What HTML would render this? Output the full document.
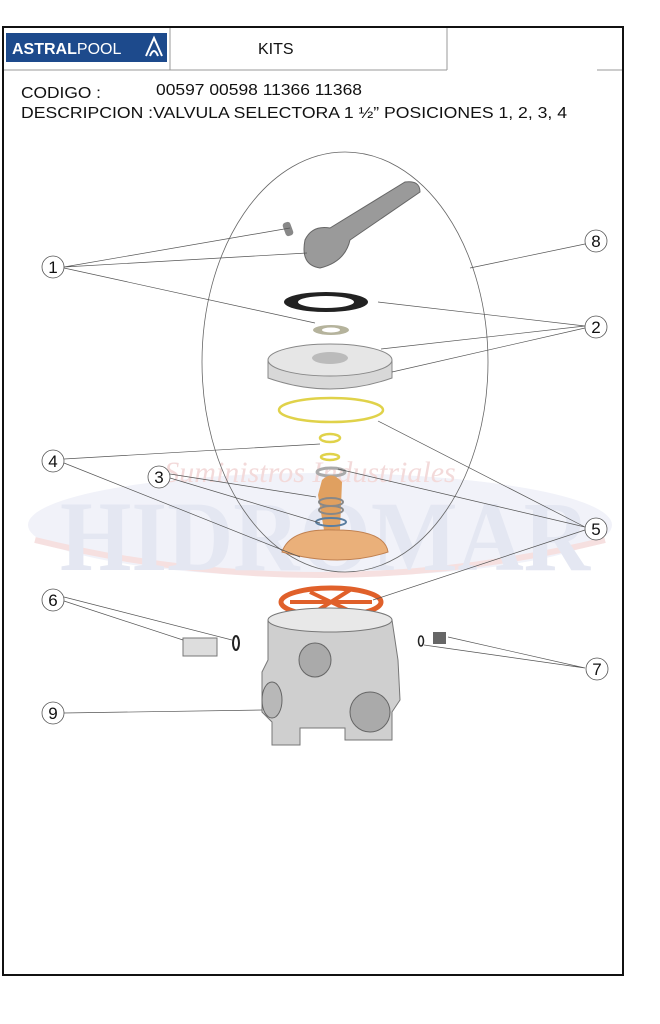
<!DOCTYPE html>
<html><head><meta charset="utf-8"><style>
body{margin:0;background:#fff;}
svg{display:block;font-family:"Liberation Sans",sans-serif;}
</style></head><body>
<svg width="660" height="1024" viewBox="0 0 660 1024" xmlns="http://www.w3.org/2000/svg">
<rect x="0" y="0" width="660" height="1024" fill="#fff"/>
<!-- watermark -->
<ellipse cx="320" cy="525" rx="292" ry="52" fill="#f1f2f9"/>
<path d="M35 540 Q320 610 605 540" stroke="#f6e0e0" stroke-width="6" fill="none"/>
<text x="60" y="570" font-family="Liberation Serif,serif" font-weight="bold" font-size="100" fill="#e4e7f2" textLength="530" lengthAdjust="spacingAndGlyphs">HIDROMAR</text>
<text x="310" y="482" font-family="Liberation Serif,serif" font-style="italic" font-size="30" fill="#f3dada" text-anchor="middle">Suministros Industriales</text>
<!-- frame -->
<rect x="3" y="27" width="620" height="948" fill="none" stroke="#111" stroke-width="2"/>
<line x1="170" y1="28" x2="170" y2="70" stroke="#999" stroke-width="1"/>
<line x1="447" y1="28" x2="447" y2="70" stroke="#999" stroke-width="1"/>
<line x1="4" y1="70" x2="447" y2="70" stroke="#999" stroke-width="1"/>
<line x1="597" y1="70" x2="622" y2="70" stroke="#999" stroke-width="1"/>
<rect x="6" y="33" width="161" height="29" fill="#1d4a8c"/>
<text x="12" y="54" font-size="16" font-weight="bold" fill="#fff">ASTRAL<tspan font-weight="normal">POOL</tspan></text>
<path d="M146 56 L154 38 L162 56 M150 56 Q154 46 158 56" stroke="#fff" stroke-width="2" fill="none"/>
<text x="258" y="54" font-size="16" fill="#111">KITS</text>
<text x="21" y="98" font-size="16" fill="#111" textLength="80" lengthAdjust="spacingAndGlyphs">CODIGO :</text>
<text x="156" y="95" font-size="16" fill="#111" textLength="206" lengthAdjust="spacingAndGlyphs">00597 00598 11366 11368</text>
<text x="21" y="118" font-size="16" fill="#111" textLength="546" lengthAdjust="spacingAndGlyphs">DESCRIPCION :VALVULA SELECTORA 1 ½” POSICIONES 1, 2, 3, 4</text>
<!-- big ellipse -->
<ellipse cx="345" cy="362" rx="143" ry="210" fill="none" stroke="#666" stroke-width="0.8"/>
<!-- parts -->
<g>
<rect x="284" y="222" width="8" height="14" rx="3" fill="#888" transform="rotate(-20 288 229)"/>
<path d="M305 240 Q312 225 330 228 L405 182 Q420 180 420 192 L350 240 Q345 262 320 268 Q300 265 305 240Z" fill="#9a9a9a" stroke="#666"/>
<ellipse cx="326" cy="302" rx="42" ry="10" fill="#222"/>
<ellipse cx="326" cy="302" rx="28" ry="6" fill="#fff"/>
<ellipse cx="331" cy="330" rx="18" ry="5" fill="#b5b39c"/>
<ellipse cx="331" cy="330" rx="9" ry="2.5" fill="#fff"/>
<path d="M268 360 L268 378 Q330 400 392 378 L392 360Z" fill="#d8d8d8" stroke="#888"/>
<ellipse cx="330" cy="360" rx="62" ry="16" fill="#e6e6e6" stroke="#888"/>
<ellipse cx="330" cy="358" rx="18" ry="6" fill="#bbb"/>
<ellipse cx="331" cy="410" rx="52" ry="12" fill="none" stroke="#e0d24a" stroke-width="2.5"/>
<ellipse cx="330" cy="438" rx="10" ry="4" fill="none" stroke="#e0d24a" stroke-width="2.5"/>
<ellipse cx="330" cy="457" rx="9" ry="3" fill="none" stroke="#e0d24a" stroke-width="2.5"/>
<ellipse cx="331" cy="472" rx="14" ry="4" fill="none" stroke="#aaa" stroke-width="3"/>
<path d="M318 495 L322 480 Q332 470 342 482 L340 530 L324 530Z" fill="#e0a060"/>
<ellipse cx="331" cy="502" rx="12" ry="4" fill="none" stroke="#888" stroke-width="2"/>
<ellipse cx="331" cy="510" rx="12" ry="4" fill="none" stroke="#888" stroke-width="2"/>
<ellipse cx="331" cy="522" rx="15" ry="4" fill="none" stroke="#5a7ea0" stroke-width="2"/>
<path d="M282 552 Q290 528 335 530 Q385 530 388 552 Q340 568 282 552Z" fill="#eab07a" stroke="#c08050"/>
<ellipse cx="331" cy="602" rx="50" ry="14" fill="none" stroke="#e0602a" stroke-width="5"/>
<path d="M290 602 L372 602 M310 592 L352 612 M350 590 L312 614" stroke="#e0602a" stroke-width="4"/>
<path d="M268 620 L268 660 L262 672 L262 712 L272 722 L272 745 L300 745 L300 728 L345 728 L345 740 L392 740 L392 712 L400 700 L398 660 L392 620 Q330 640 268 620Z" fill="#cfcfcf" stroke="#777"/>
<ellipse cx="330" cy="620" rx="62" ry="12" fill="#e8e8e8" stroke="#777"/>
<ellipse cx="315" cy="660" rx="16" ry="17" fill="#aaa" stroke="#666"/>
<ellipse cx="370" cy="712" rx="20" ry="20" fill="#aaa" stroke="#666"/>
<ellipse cx="272" cy="700" rx="10" ry="18" fill="#b8b8b8" stroke="#666"/>
<rect x="183" y="638" width="34" height="18" fill="#ddd" stroke="#777"/>
<ellipse cx="236" cy="643" rx="3" ry="7" fill="none" stroke="#222" stroke-width="2"/>
<ellipse cx="421" cy="641" rx="2.5" ry="5" fill="none" stroke="#222" stroke-width="1.5"/>
<rect x="433" y="632" width="13" height="12" fill="#666"/>
</g>
<!-- leader lines -->
<g stroke="#555" stroke-width="0.7" fill="none">
<path d="M64 267 L290 228 M64 267 L307 253 M64 268 L315 323"/>
<path d="M585 244 L470 268"/>
<path d="M585 326 L378 302 M585 326 L381 349 M585 328 L392 372"/>
<path d="M64 459 L320 444 M64 463 L300 557"/>
<path d="M170 474 L316 497 M170 478 L320 523"/>
<path d="M585 527 L378 421 M585 527 L338 469 M585 530 L373 600"/>
<path d="M64 597 L232 640 M64 601 L183 640"/>
<path d="M585 668 L448 637 M585 668 L424 645"/>
<path d="M64 713 L262 710"/>
</g>
<g font-size="17" text-anchor="middle" fill="#111">
<g fill="#fff" stroke="#555" stroke-width="0.8">
<circle cx="53" cy="267" r="11"/><circle cx="596" cy="241" r="11"/><circle cx="596" cy="327" r="11"/>
<circle cx="53" cy="461" r="11"/><circle cx="159" cy="477" r="11"/><circle cx="596" cy="529" r="11"/>
<circle cx="53" cy="600" r="11"/><circle cx="597" cy="669" r="11"/><circle cx="53" cy="713" r="11"/>
</g>
<text x="53" y="273">1</text><text x="596" y="247">8</text><text x="596" y="333">2</text>
<text x="53" y="467">4</text><text x="159" y="483">3</text><text x="596" y="535">5</text>
<text x="53" y="606">6</text><text x="597" y="675">7</text><text x="53" y="719">9</text>
</g>
</svg>
</body></html>
